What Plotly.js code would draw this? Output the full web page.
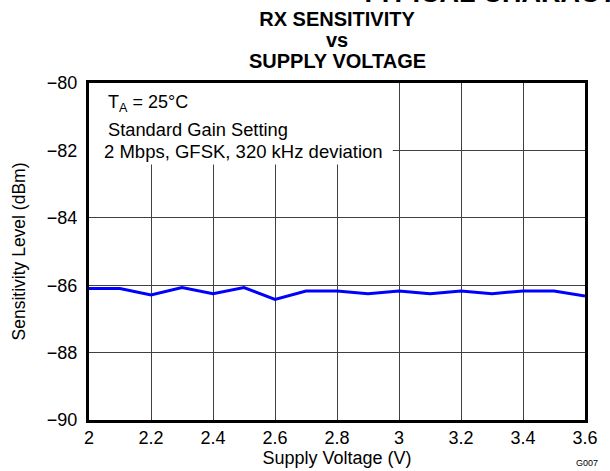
<!DOCTYPE html>
<html>
<head>
<meta charset="utf-8">
<script src="https://cdn.plot.ly/plotly-3.0.1.min.js"></script>
<style>html,body{margin:0;padding:0;background:#fff;}#chart{width:610px;height:471px;}</style>
</head>
<body>
<div id="chart"></div>
<script>
// Data
const supplyVoltage = [2.0, 2.1, 2.2, 2.3, 2.4, 2.5, 2.6, 2.7, 2.8, 2.9, 3.0, 3.1, 3.2, 3.3, 3.4, 3.5, 3.6];
const sensitivity = [-86.10, -86.10, -86.29, -86.07, -86.25, -86.07, -86.42, -86.17, -86.17, -86.25, -86.17, -86.25, -86.17, -86.25, -86.17, -86.17, -86.32];
const xTickVals = [2, 2.2, 2.4, 2.6, 2.8, 3, 3.2, 3.4, 3.6];
const xTickText = ['2', '2.2', '2.4', '2.6', '2.8', '3', '3.2', '3.4', '3.6'];
const yTickVals = [-90, -88, -86, -84, -82, -80];
const titleLines = ['RX SENSITIVITY', 'vs', 'SUPPLY VOLTAGE'];
const noteLines = ['T<sub>A</sub> = 25°C', 'Standard Gain Setting', '2 Mbps, GFSK, 320 kHz deviation'];

const FONT = 'Liberation Sans, Arial, sans-serif';
const W = 610, H = 471, L = 89, R = 25, T = 83, B = 51;
const PW = W - L - R, PH = H - T - B;
const px = v => (v - L) / PW;          // pixel x -> paper x
const py = v => (H - B - v) / PH;      // pixel y -> paper y

const trace = {
  x: supplyVoltage,
  y: sensitivity,
  type: 'scatter',
  mode: 'lines',
  line: {color: '#0000ff', width: 3},
  hoverinfo: 'skip'
};

const ann = (text, x, y, xanchor, size, bold) => ({
  text: bold ? '<b>' + text + '</b>' : text,
  xref: 'paper', yref: 'paper', x: px(x), y: py(y),
  xanchor: xanchor, yanchor: 'middle', showarrow: false,
  font: {family: FONT, size: size, color: '#000'}
});

const layout = {
  width: W,
  height: H,
  margin: {l: L, r: R, t: T, b: B},
  paper_bgcolor: '#fff',
  plot_bgcolor: '#fff',
  showlegend: false,
  font: {family: FONT, color: '#000', size: 18},
  title: {
    text: '<b>' + titleLines[0] + '</b>',
    font: {family: FONT, size: 20, color: '#000'},
    x: px(337), xref: 'paper', xanchor: 'center',
    y: 1 - 19 / H, yanchor: 'middle', yref: 'container'
  },
  xaxis: {
    range: [2, 3.6],
    tickvals: xTickVals,
    ticktext: xTickText,
    ticks: '',
    showgrid: true,
    gridcolor: '#404040',
    gridwidth: 1,
    zeroline: false,
    showline: true,
    linecolor: '#000',
    linewidth: 3,
    mirror: true,
    ticklabelstandoff: -1,
    tickfont: {family: FONT, size: 18, color: '#000'},
    title: {text: 'Supply Voltage (V)', font: {family: FONT, size: 18, color: '#000'}, standoff: 1}
  },
  yaxis: {
    range: [-90, -80],
    tickvals: yTickVals,
    ticks: '',
    showgrid: true,
    gridcolor: '#404040',
    gridwidth: 1,
    zeroline: false,
    showline: true,
    linecolor: '#000',
    linewidth: 3,
    mirror: true,
    ticklabelstandoff: 5,
    tickfont: {family: FONT, size: 18, color: '#000'},
    title: {text: 'Sensitivity Level (dBm)', font: {family: FONT, size: 17.5, color: '#000'}, standoff: 17}
  },
  shapes: [{
    type: 'rect', xref: 'x', yref: 'y', layer: 'above',
    x0: 2, x1: 2.98, y0: -82.42, y1: -80,
    fillcolor: '#fff', line: {width: 0}
  }],
  annotations: [
    ann(titleLines[1], 337, 40, 'center', 20, true),
    ann(titleLines[2], 337, 61, 'center', 20, true),
    ann(noteLines[0], 106, 103, 'left', 18, false),
    ann(noteLines[1], 106, 129, 'left', 18.3, false),
    ann(noteLines[2], 102, 151, 'left', 18.5, false),
    ann('TYPICAL CHARACTERISTICS', 358, -7, 'left', 27, true),
    ann('G007', 600, 463, 'right', 9, false)
  ]
};

Plotly.newPlot('chart', [trace], layout, {displayModeBar: false, staticPlot: true});
</script>
</body>
</html>
